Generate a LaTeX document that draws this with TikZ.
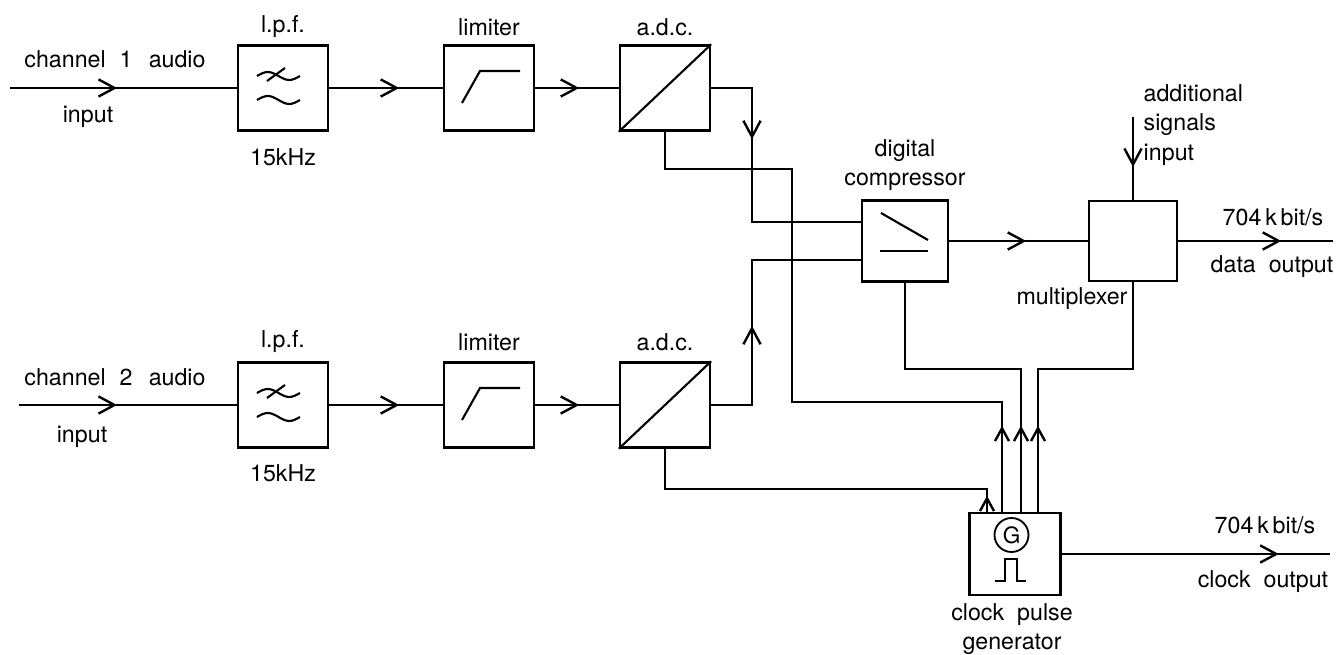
\documentclass[tikz,border=0pt]{standalone}
\usepackage{fontspec}
\setmainfont{TeX Gyre Heros}
\usepackage{tikz}
\usetikzlibrary{arrows.meta,positioning,decorations.markings}
\tikzset{
  blk/.style={draw, line width=1.7pt, minimum width=2.25cm, minimum height=2.125cm, inner sep=0pt},
  sig/.style={line width=1.7pt},
  sym/.style={line width=1.5pt},
  lbl/.style={font=\fontsize{16.5}{21}\selectfont, inner sep=1pt},
  flow/.style={sig, postaction={decorate, decoration={markings,
      mark=at position #1 with {\arrow{Straight Barb[length=4mm, width=4.3mm]}}}}},
  tick/.style={sig, postaction={decorate, decoration={markings,
      mark=at position #1 with {\arrow{Straight Barb[length=3.2mm, width=3.5mm]}}}}},
}

\begin{document}
\begin{tikzpicture}[x=0.025cm, y=-0.025cm]
  \useasboundingbox (0,0) rectangle (1344,655);
  % channel 1
  \node[blk] (lpfA) at (283,88) {};
  \node[blk] (limA) at (489,88) {};
  \node[blk] (adcA) at (665,88) {};
  % channel 2
  \node[blk] (lpfB) at (283,405) {};
  \node[blk] (limB) at (489,405) {};
  \node[blk] (adcB) at (665,405) {};
  % common part
  \node[blk, minimum width=2.15cm, minimum height=2.025cm] (comp) at (905,241) {};
  \node[blk, minimum width=2.2cm, minimum height=2cm] (mux) at (1133,241) {};
  \node[blk, minimum width=2.275cm, minimum height=2.05cm] (clk) at (1015,554) {};

  \coordinate (inA) at (10,88);
  \coordinate (inB) at (19,405);
  \coordinate (extra) at (1133,117);
  \coordinate (dataout) at (1333,241);
  \coordinate (clkout) at (1330,554);

  % symbols in the boxes
  \draw[sym] ([shift={(-26,-12)}]lpfA.center) sin ++(10.75,-4) cos ++(10.75,4) sin ++(10.75,4) cos ++(10.75,-4);
  \draw[sym] ([shift={(-26,12)}]lpfA.center) sin ++(10.75,-4) cos ++(10.75,4) sin ++(10.75,4) cos ++(10.75,-4);
  \draw[sym] ([shift={(-16,-7)}]lpfA.center) -- ++(18,-13);
  \draw[sym] ([shift={(-26,-12)}]lpfB.center) sin ++(10.75,-4) cos ++(10.75,4) sin ++(10.75,4) cos ++(10.75,-4);
  \draw[sym] ([shift={(-26,12)}]lpfB.center) sin ++(10.75,-4) cos ++(10.75,4) sin ++(10.75,4) cos ++(10.75,-4);
  \draw[sym] ([shift={(-16,-7)}]lpfB.center) -- ++(18,-13);
  \draw[sym] ([shift={(-27,15)}]limA.center) -- ++(18,-32) -- ++(40,0);
  \draw[sym] ([shift={(-27,15)}]limB.center) -- ++(18,-32) -- ++(40,0);
  \draw[sym] (adcA.south west) -- (adcA.north east);
  \draw[sym] (adcB.south west) -- (adcB.north east);
  \draw[sym] ([shift={(-24,-28)}]comp.center) -- ([shift={(23,-1)}]comp.center);
  \draw[sym] ([shift={(-25,10)}]comp.center) -- ++(48,0);
  \node[draw, circle, line width=1.3pt, minimum size=0.85cm, inner sep=0pt,
        font=\fontsize{16}{16}\selectfont] (gen) at ([shift={(-3.5,-19)}]clk.center) {G};
  \draw[sym] ([shift={(-20,27)}]clk.center) -- ++(10,0) -- ++(0,-22) -- ++(12,0) -- ++(0,22) -- ++(9,0);

  % signal paths
  \draw[flow=2.675cm] (inA) -- (lpfA.west);
  \draw[flow=1.75cm] (lpfA.east) -- (limA.west);
  \draw[flow=1.1cm] (limA.east) -- (adcA.west);
  \draw[flow=2.45cm] (inB) -- (lpfB.west);
  \draw[flow=1.75cm] (lpfB.east) -- (limB.west);
  \draw[flow=1.1cm] (limB.east) -- (adcB.west);
  \draw[flow=2.3cm] (adcA.east) -| (752,222) -- ([shift={(0,-19)}]comp.west);
  \draw[flow=3.0cm] (adcB.east) -| (752,260) -- ([shift={(0,19)}]comp.west);
  \draw[flow=1.925cm] (comp.east) -- (mux.west);
  \draw[flow=1.25cm] (extra) -- (mux.north);
  \draw[flow=2.575cm] (mux.east) -- (dataout);
  \draw[flow=5.425cm] (clk.east) -- (clkout);
  % clock distribution
  \draw[tick=0.4cm] ([shift={(-28,0)}]clk.north) |- (665,489) -- (adcB.south);
  \draw[tick=2.15cm] ([shift={(-13,0)}]clk.north) |- (792,402) |- (665,169) -- (adcA.south);
  \draw[tick=2.15cm] ([shift={(6,0)}]clk.north) |- (905,369) -- (comp.south);
  \draw[tick=2.15cm] ([shift={(23,0)}]clk.north) |- (1133,369) -- (mux.south);

  % texts
  \node[lbl] (chAtxt) at (115,59) {channel\hspace{0.6em}1\hspace{0.7em}audio};
  \node[lbl] (inAtxt) at (88,117) {input};
  \node[lbl] (lpfAtxt) at (283,27) {l.p.f.};
  \node[lbl] (fcAtxt) at (283,157) {15kHz};
  \node[lbl] (limAtxt) at (489,27) {limiter};
  \node[lbl] (adcAtxt) at (665,27) {a.d.c.};
  \node[lbl] (chBtxt) at (115,377) {channel\hspace{0.6em}2\hspace{0.7em}audio};
  \node[lbl] (inBtxt) at (82,437) {input};
  \node[lbl] (lpfBtxt) at (283,342) {l.p.f.};
  \node[lbl] (fcBtxt) at (283,473) {15kHz};
  \node[lbl] (limBtxt) at (489,342) {limiter};
  \node[lbl] (adcBtxt) at (665,342) {a.d.c.};
  \node[lbl, align=center] (comptxt) at (905,165) {digital\\compressor};
  \node[lbl, align=left, anchor=west] (extratxt) at (1142,125) {additional\\signals\\input};
  \node[lbl] (muxtxt) at (1072,299) {multiplexer};
  \node[lbl] (rateAtxt) at (1273,217) {704\,k\,bit/s};
  \node[lbl] (dataouttxt) at (1272,267) {data\ \ output};
  \node[lbl] (rateBtxt) at (1265,525) {704\,k\,bit/s};
  \node[lbl] (clkouttxt) at (1263,582) {clock\ \ output};
  \node[lbl, align=center] (clktxt) at (1012,629) {clock\ \ pulse\\generator};
\end{tikzpicture}
\end{document}
